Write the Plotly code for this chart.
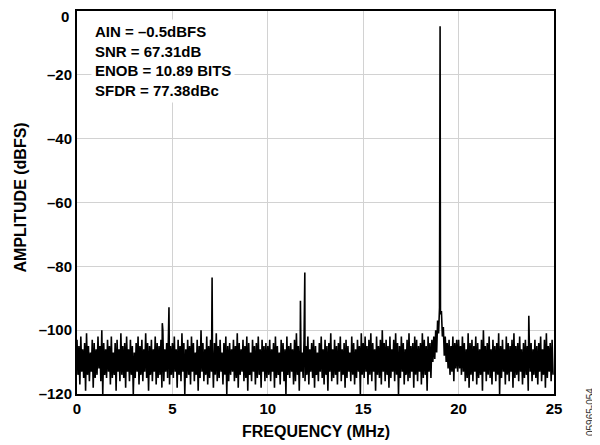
import numpy as np
import plotly.graph_objects as go

# ---------------- data ----------------
BIN_MHZ = 0.05  # spacing of plotted FFT points

# noise floor, local peaks and dips for each 5 MHz span
peaks_0_5 = [-103, -105, -102, -106, -104, -101, -105, -107, -103, -104,
             -106, -102, -105, -100, -104, -106, -103, -105, -102, -107,
             -104, -103, -106, -101, -105, -104, -102, -106, -103, -105,
             -107, -104, -102, -105, -103, -106, -101, -104, -105, -103,
             -106, -102, -104, -105, -103, -100, -106, -104, -102, -105]
dips_0_5 = [-114, -117, -113, -115, -119, -114, -116, -113, -118, -115,
            -114, -112, -116, -120, -114, -115, -113, -117, -115, -114,
            -119, -113, -116, -114, -115, -118, -113, -116, -114, -120,
            -115, -113, -117, -114, -116, -113, -115, -119, -114, -116,
            -113, -117, -115, -114, -118, -116, -113, -115, -117, -114]

peaks_5_10 = [-104, -102, -106, -103, -105, -101, -104, -106, -103, -105,
              -102, -104, -107, -103, -105, -100, -104, -106, -102, -105,
              -103, -106, -104, -101, -105, -103, -107, -104, -102, -105,
              -104, -106, -103, -105, -101, -104, -106, -103, -105, -102,
              -104, -107, -103, -105, -104, -102, -106, -103, -105, -104]
dips_5_10 = [-115, -113, -118, -114, -116, -113, -120, -115, -114, -117,
             -113, -116, -114, -119, -115, -113, -116, -114, -117, -115,
             -113, -118, -114, -116, -115, -113, -117, -114, -120, -116,
             -114, -113, -116, -115, -118, -114, -113, -116, -115, -119,
             -114, -116, -113, -117, -115, -114, -118, -113, -116, -115]

peaks_10_15 = [-105, -103, -106, -104, -102, -105, -107, -103, -104, -106,
               -102, -105, -104, -106, -103, -101, -105, -104, -107, -103,
               -105, -102, -106, -104, -103, -105, -107, -104, -102, -106,
               -103, -105, -104, -101, -106, -103, -105, -104, -102, -106,
               -104, -103, -105, -107, -102, -104, -106, -103, -105, -101]
dips_10_15 = [-114, -116, -113, -118, -115, -114, -117, -113, -116, -120,
              -114, -115, -113, -117, -116, -114, -119, -113, -115, -116,
              -114, -117, -113, -115, -118, -114, -116, -113, -115, -117,
              -114, -119, -113, -116, -115, -114, -117, -113, -116, -114,
              -118, -115, -113, -116, -114, -117, -115, -113, -120, -114]

peaks_15_20 = [-104, -102, -105, -103, -101, -104, -106, -102, -105, -103,
               -100, -104, -103, -105, -102, -106, -103, -101, -104, -105,
               -102, -104, -106, -103, -101, -105, -104, -102, -103, -105,
               -104, -101, -103, -105, -102, -104, -103, -102, -100, -97,
               -93, -94, -99, -102, -104, -103, -105, -102, -104, -103]
dips_15_20 = [-115, -113, -117, -114, -116, -113, -119, -114, -115, -117,
              -113, -116, -114, -118, -115, -113, -116, -114, -120, -115,
              -113, -117, -114, -116, -115, -113, -118, -114, -116, -113,
              -117, -115, -114, -119, -113, -115, -110, -109, -107, -101,
              -95, -102, -108, -110, -112, -114, -113, -116, -112, -113]

peaks_20_25 = [-103, -105, -102, -104, -106, -101, -104, -103, -105, -102,
               -104, -106, -103, -100, -105, -104, -102, -106, -103, -105,
               -104, -101, -105, -103, -106, -102, -104, -105, -103, -101,
               -105, -104, -102, -106, -104, -103, -105, -102, -104, -106,
               -103, -105, -104, -102, -106, -103, -101, -105, -104, -103]
dips_20_25 = [-112, -114, -113, -116, -115, -118, -114, -116, -113, -117,
              -115, -114, -119, -113, -116, -114, -115, -117, -113, -116,
              -114, -120, -115, -113, -117, -114, -116, -113, -118, -115,
              -114, -116, -113, -117, -115, -114, -119, -113, -116, -114,
              -115, -117, -113, -116, -114, -118, -115, -113, -116, -114]

# fundamental and spurs
spur_freq_mhz = [4.47, 4.82, 7.08, 11.71, 11.94, 19.03, 23.68]
spur_level_dbfs = [-97.8, -92.8, -83.5, -90.8, -81.9, -4.8, -95.5]

y_tick_vals = [0, -20, -40, -60, -80, -100, -120]
y_tick_text = ["0", "–20", "–40", "–60", "–80", "–100", "–120"]
x_tick_vals = [0, 5, 10, 15, 20, 25]

stats_lines = ["AIN = –0.5dBFS", "SNR = 67.31dB", "ENOB = 10.89 BITS", "SFDR = 77.38dBc"]

# ---------------- build spectrum ----------------
segments = [(peaks_0_5, dips_0_5), (peaks_5_10, dips_5_10), (peaks_10_15, dips_10_15),
            (peaks_15_20, dips_15_20), (peaks_20_25, dips_20_25)]
freq, amp = [], []
for s, (pk, dp) in enumerate(segments):
    for j, (p, d) in enumerate(zip(pk, dp)):
        k = s * 2 * len(pk) + 2 * j
        freq += [k * BIN_MHZ, (k + 1) * BIN_MHZ]
        amp += [p, d]
freq += spur_freq_mhz
amp += spur_level_dbfs
order = np.argsort(np.array(freq), kind="stable")
freq = np.array(freq)[order]
amp = np.array(amp)[order]

FONT = "Arial, Liberation Sans, Helvetica, sans-serif"
TICK_FONT = dict(family=FONT, size=15, color="black", weight="bold")

fig = go.Figure()
fig.add_trace(go.Scatter(x=freq, y=amp, mode="lines",
                         line=dict(color="black", width=1.6), hoverinfo="skip",
                         showlegend=False))

axis_common = dict(showline=True, linecolor="black", linewidth=2, mirror=True,
                   showgrid=True, gridcolor="#d2d2d2", gridwidth=1, zeroline=False,
                   automargin=False, ticks="", tickfont=TICK_FONT)
fig.update_xaxes(range=[0, 25], tickvals=x_tick_vals, **axis_common)
# the top tick label sits at the very edge of the page, so it is placed as an annotation
fig.update_yaxes(range=[-120, 0], tickvals=y_tick_vals,
                 ticktext=[""] + y_tick_text[1:], **axis_common)
fig.add_annotation(xref="paper", yref="y", x=0, y=y_tick_vals[0], xanchor="right",
                   yanchor="middle", xshift=-7, yshift=-5.5, borderpad=0,
                   text=y_tick_text[0], showarrow=False, font=TICK_FONT)

fig.add_annotation(xref="paper", yref="paper", x=0.03, y=0.978, xanchor="left", yanchor="top",
                   text="<br>".join(stats_lines), align="left", showarrow=False,
                   bgcolor="white", borderpad=3,
                   font=dict(family=FONT, size=15, color="black", weight="bold"))
fig.add_annotation(xref="paper", yref="paper", x=0.5, y=0, yanchor="top", yshift=-27,
                   text="FREQUENCY (MHz)", showarrow=False,
                   font=dict(family=FONT, size=16, color="black", weight="bold"))
fig.add_annotation(xref="paper", yref="paper", x=0, y=0.5, xanchor="center", xshift=-57, yshift=5,
                   text="AMPLITUDE (dBFS)", textangle=-90, showarrow=False,
                   font=dict(family=FONT, size=16, color="black", weight="bold"))
fig.add_annotation(xref="paper", yref="paper", x=1, y=0, xanchor="center", yanchor="middle",
                   xshift=36, yshift=-18, text="05965-054", textangle=-90, showarrow=False,
                   font=dict(family=FONT, size=10, color="#333333"))

# page has an 8 px body margin, so the figure is 592x437 drawn at (8, 8)
fig.update_layout(width=592, height=437, margin=dict(l=69, r=46, t=3, b=51),
                  paper_bgcolor="white", plot_bgcolor="white")

fig.write_html("out.html")
